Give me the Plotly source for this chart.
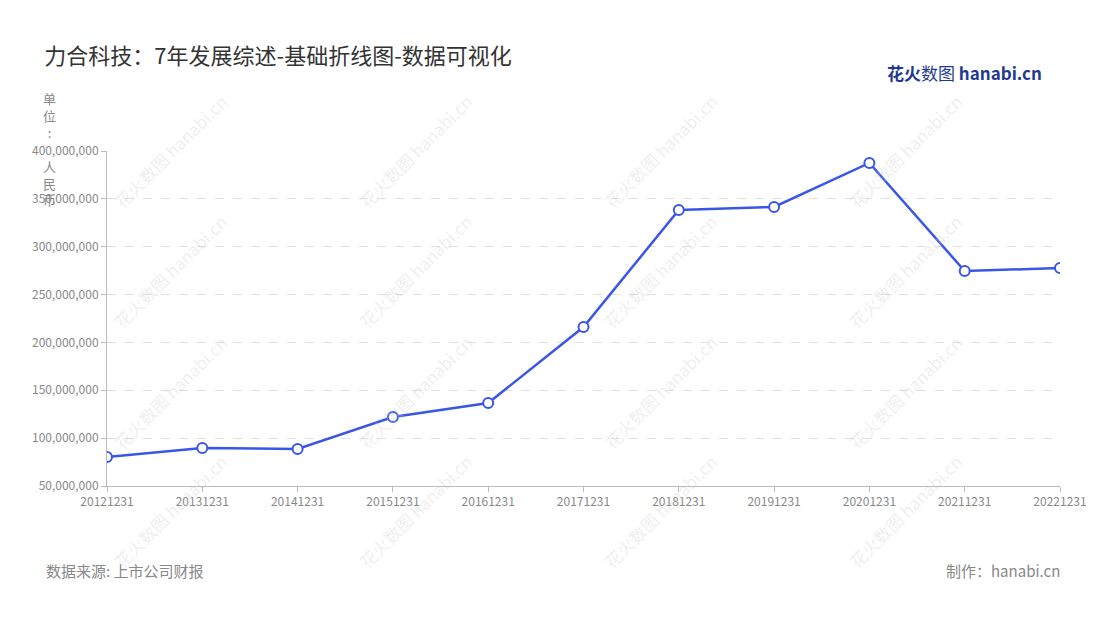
import plotly.graph_objects as go

dates = ["20121231", "20131231", "20141231", "20151231", "20161231", "20171231",
         "20181231", "20191231", "20201231", "20211231", "20221231"]
values = [80300000, 89700000, 88700000, 122100000, 136700000, 216100000,
          338400000, 341500000, 387500000, 274600000, 277800000]
y_ticks = [50000000, 100000000, 150000000, 200000000, 250000000, 300000000, 350000000, 400000000]

fig = go.Figure()
fig.add_trace(go.Scatter(
    x=dates, y=values, mode="lines+markers",
    line=dict(color="#3a56e8", width=2.5),
    marker=dict(size=10, color="white", line=dict(color="#3a56e8", width=2)),
    hoverinfo="x+y",
))

# watermark grid
for wx in [0.066, 0.323, 0.58, 0.837]:
    for wy in [1.0, 0.64, 0.28, -0.076]:
        fig.add_annotation(xref="paper", yref="paper", x=wx, y=wy, text="花火数图 hanabi.cn",
                           xanchor="center", yanchor="middle",
                           textangle=-45, showarrow=False,
                           font=dict(size=17, color="rgba(200,200,200,0.3)"))

fig.add_annotation(xref="paper", yref="paper", x=-0.06, y=1.19, xanchor="center", yanchor="top",
                   text="单<br>位<br>:<br> <br>人<br>民<br>币", showarrow=False, align="center",
                   font=dict(size=13, color="#888"))
fig.add_annotation(xref="paper", yref="paper", x=0.9, y=1.235, xanchor="center", yanchor="middle",
                   text="<b><span style='color:#1f3a8f'>花火</span></b><span style='color:#1f3a8f'>数图</span> "
                        "<b><span style='color:#1f3a8f'>hanabi.cn</span></b>",
                   showarrow=False, font=dict(size=17))

fig.update_layout(
    width=1100, height=620,
    paper_bgcolor="white", plot_bgcolor="white",
    margin=dict(l=99, r=48, t=143, b=142, autoexpand=False),
    showlegend=False,
    font=dict(family="Noto Sans CJK SC, Noto Sans", color="#888"),
    title=dict(text="力合科技：7年发展综述-基础折线图-数据可视化", x=0.033, y=0.935,
               xanchor="left", font=dict(size=22, color="#333")),
    xaxis=dict(type="category", showgrid=False, showline=True, linecolor="#bbb",
               ticks="outside", tickcolor="#bbb", ticklen=5,
               tickfont=dict(size=12, color="#888"), range=[0, 10]),
    yaxis=dict(range=[50000000, 400000000], tickvals=y_ticks, tickformat=",d",
               showgrid=True, gridcolor="#e0e0e0", griddash="dash", zeroline=False,
               showline=True, linecolor="#bbb", ticks="outside", tickcolor="#bbb", ticklen=5,
               tickfont=dict(size=12, color="#888")),
)
fig.add_annotation(xref="paper", yref="paper", x=-0.066, y=-0.215, xanchor="left", yanchor="top",
                   text="数据来源: 上市公司财报", showarrow=False, font=dict(size=15, color="#888"))
fig.add_annotation(xref="paper", yref="paper", x=1.002, y=-0.215, xanchor="right", yanchor="top",
                   text="制作：hanabi.cn", showarrow=False, font=dict(size=15, color="#888"))

fig.write_html("out.html")
